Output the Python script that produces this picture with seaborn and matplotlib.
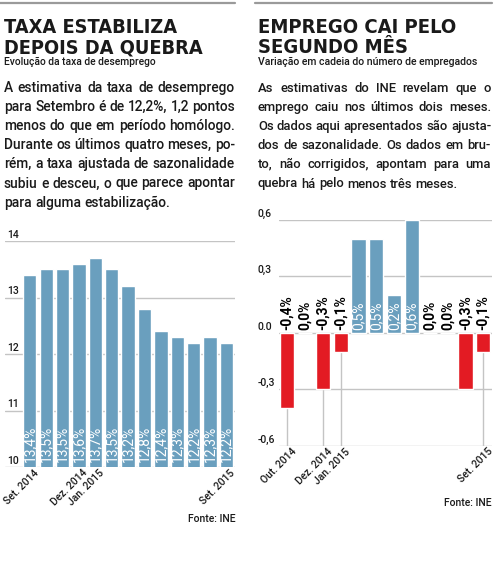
import matplotlib
matplotlib.use("Agg")
import matplotlib.pyplot as plt
from matplotlib import font_manager as fm
from matplotlib.lines import Line2D
import matplotlib.transforms as mtransforms
import seaborn as sns
import pandas as pd

# ---------------- data ----------------
left_months = ["Set. 2014", "Out. 2014", "Nov. 2014", "Dez. 2014", "Jan. 2015", "Fev. 2015",
               "Mar. 2015", "Abr. 2015", "Mai. 2015", "Jun. 2015", "Jul. 2015", "Ago. 2015",
               "Set. 2015"]
left_values = [13.4, 13.5, 13.5, 13.6, 13.7, 13.5, 13.2, 12.8, 12.4, 12.3, 12.2, 12.3, 12.2]
left_tick_labels = ["Set. 2014", "Dez. 2014", "Jan. 2015", "Set. 2015"]
left_yticks = [10, 11, 12, 13, 14]
left_ytick_labels = ["10", "11", "12", "13", "14"]

right_months = ["Out. 2014", "Nov. 2014", "Dez. 2014", "Jan. 2015", "Fev. 2015", "Mar. 2015",
                "Abr. 2015", "Mai. 2015", "Jun. 2015", "Jul. 2015", "Ago. 2015", "Set. 2015"]
right_values = [-0.4, 0.0, -0.3, -0.1, 0.5, 0.5, 0.2, 0.6, 0.0, 0.0, -0.3, -0.1]
right_tick_labels = ["Out. 2014", "Dez. 2014", "Jan. 2015", "Set. 2015"]
right_yticks = [-0.6, -0.3, 0.0, 0.3, 0.6]
right_ytick_labels = ["-0,6", "-0,3", "0.0", "0,3", "0,6"]

left_title = ["TAXA ESTABILIZA", "DEPOIS DA QUEBRA"]
left_subtitle = "Evolução da taxa de desemprego"
left_body = ["A estimativa da taxa de desemprego",
             "para Setembro é de 12,2%, 1,2 pontos",
             "menos do que em período homólogo.",
             "Durante os últimos quatro meses, po-",
             "rém, a taxa ajustada de sazonalidade",
             "subiu e desceu, o que parece apontar",
             "para alguma estabilização."]
right_title = ["EMPREGO CAI PELO", "SEGUNDO MÊS"]
right_subtitle = "Variação em cadeia do número de empregados"
right_body = ["As estimativas do INE revelam que o",
              "emprego caiu nos últimos dois meses.",
              "Os dados aqui apresentados são ajusta-",
              "dos de sazonalidade. Os dados em bru-",
              "to, não corrigidos, apontam para uma",
              "quebra há pelo menos três meses."]
source = "Fonte: INE"

# ---------------- style ----------------
BLUE = "#6a9fbe"
RED = "#e31b23"
GRID = "#c4c4c4"
TXT = "#1a1a1a"

sns.set_style("white")
names = {f.name for f in fm.fontManager.ttflist}
BODY = "Roboto" if "Roboto" in names else ("Open Sans" if "Open Sans" in names else "DejaVu Sans")
if "Liberation Sans Narrow" in names:
    TITLE_KW = dict(family="Liberation Sans Narrow", weight="bold")
else:
    TITLE_KW = dict(family="DejaVu Sans", weight="bold", stretch="condensed")
plt.rcParams["font.family"] = [BODY, "DejaVu Sans"]

W, H = 496, 561
fig = plt.figure(figsize=(W / 100, H / 100), dpi=100)
fig.patch.set_facecolor("white")
renderer = fig.canvas.get_renderer()


def fx(px):
    return px / W


def fy(py):
    return 1 - py / H


def width_of(t):
    return t.get_window_extent(renderer).width


def fit_line(x, yb, s, target_w, fs0=12, **kw):
    t = fig.text(fx(x), fy(yb), s, va="baseline", ha="left", fontsize=fs0, color=TXT, **kw)
    fs = fs0 * target_w / width_of(t)
    t.set_fontsize(fs)
    return fs


def justify(lines, x0, x1, baselines, **kw):
    fs0 = 10
    probe = [fig.text(0, 0, ln, fontsize=fs0, **kw) for ln in lines[:-1]]
    maxw = max(width_of(p) for p in probe)
    for p in probe:
        p.remove()
    fs = fs0 * (x1 - x0) / maxw
    sp = fig.text(0, 0, "a a", fontsize=fs, **kw)
    sa = fig.text(0, 0, "aa", fontsize=fs, **kw)
    space = width_of(sp) - width_of(sa)
    sp.remove(); sa.remove()
    for i, (ln, yb) in enumerate(zip(lines, baselines)):
        words = ln.split(" ")
        ts = [fig.text(0, fy(yb), w, fontsize=fs, va="baseline", ha="left", color=TXT, **kw)
              for w in words]
        ws = [width_of(t) for t in ts]
        if i == len(lines) - 1 or len(words) == 1:
            gap = space
        else:
            gap = (x1 - x0 - sum(ws)) / (len(words) - 1)
        x = x0
        for t, w in zip(ts, ws):
            t.set_x(fx(x))
            x += w + gap


# top rules
fig.add_artist(Line2D([fx(0), fx(235)], [fy(3), fy(3)], color="#9a9a9a", lw=1.6))
fig.add_artist(Line2D([fx(255), fx(492)], [fy(3), fy(3)], color="#9a9a9a", lw=1.6))

# titles
fs = fit_line(4, 33, left_title[0], 173, **TITLE_KW)
fig.text(fx(4), fy(53), left_title[1], va="baseline", fontsize=fs, color=TXT, **TITLE_KW)
fs = fit_line(258, 33, right_title[0], 199, **TITLE_KW)
fig.text(fx(258), fy(53), right_title[1], va="baseline", fontsize=fs, color=TXT, **TITLE_KW)

# subtitles
fit_line(4, 65, left_subtitle, 153, fs0=7, weight="medium")
fit_line(258, 65, right_subtitle, 222, fs0=7, weight="medium")

# body
bl = [92, 111, 130, 149, 168, 187.5, 206.5]
justify(left_body, 4, 235, bl, weight="medium")
justify(right_body, 258, 491, bl[:6], weight="medium")

# sources
fig.text(fx(235), fy(522), source, ha="right", va="baseline", fontsize=7.5, color=TXT,
         weight="medium")
fig.text(fx(492), fy(506), source, ha="right", va="baseline", fontsize=7.5, color=TXT,
         weight="medium")

# ---------------- left chart ----------------
ax1 = fig.add_axes([fx(5), fy(467), 230 / W, 226 / H])
dfl = pd.DataFrame({"mes": left_months, "valor": left_values})
sns.barplot(data=dfl, x="mes", y="valor", color=BLUE, saturation=1, width=0.81, ax=ax1,
            zorder=2)
ax1.set_ylim(left_yticks[0], left_yticks[-1])
ax1.set_xlim(-1.51, len(left_months) - 1 + 0.52)
ax1.set_yticks(left_yticks)
ax1.yaxis.grid(True, color=GRID, lw=1)
ax1.set_axisbelow(True)
ax1.tick_params(axis="y", length=0, labelleft=False)
for v, lab in zip(left_yticks, left_ytick_labels):
    ax1.annotate(lab, xy=(0, v), xycoords=("axes fraction", "data"), xytext=(1.5, 2.2),
                 textcoords="offset points", ha="left", va="baseline", fontsize=7.5,
                 color=TXT, weight="medium")
for i, v in enumerate(left_values):
    ax1.annotate(f"{v:.1f}%".replace(".", ","), xy=(i, left_yticks[0]), xytext=(0, 3.5),
                 textcoords="offset points", rotation=90, ha="center", va="bottom",
                 fontsize=10, color="white", zorder=3)
ax1.set_xticks([left_months.index(m) for m in left_tick_labels], left_tick_labels)
ax1.tick_params(axis="x", length=0, pad=3, labelsize=7.5, colors=TXT)
off = mtransforms.ScaledTranslation(7 / 100, 0, fig.dpi_scale_trans)
for lab in ax1.get_xticklabels():
    lab.set_rotation(45)
    lab.set_ha("right")
    lab.set_va("center")
    lab.set_rotation_mode("anchor")
    lab.set_weight("medium")
    lab.set_transform(lab.get_transform() + off)
ax1.set_xlabel("")
ax1.set_ylabel("")
sns.despine(ax=ax1, left=True, bottom=True)

# ---------------- right chart ----------------
ax2 = fig.add_axes([fx(279), fy(445.7), 213 / W, 225.7 / H])
dfr = pd.DataFrame({"mes": right_months, "valor": right_values})
dfr["sinal"] = ["pos" if v > 0 else "neg" for v in right_values]
sns.barplot(data=dfr, x="mes", y="valor", hue="sinal", palette={"pos": BLUE, "neg": RED},
            saturation=1, width=0.8, dodge=False, legend=False, ax=ax2, zorder=2)
ax2.set_ylim(right_yticks[0], right_yticks[-1])
ax2.set_xlim(-0.46, len(right_months) - 1 + 0.49)
ax2.set_yticks(right_yticks)
ax2.yaxis.grid(True, color=GRID, lw=1)
ax2.set_axisbelow(True)
ax2.tick_params(axis="y", length=0, labelleft=False)
rt_idx = [right_months.index(m) for m in right_tick_labels]
ax2.vlines(rt_idx, right_yticks[0], 0, color=GRID, lw=1, zorder=1)
for v, lab in zip(right_yticks, right_ytick_labels):
    ax2.annotate(lab, xy=(0, v), xycoords=("axes fraction", "data"), xytext=(-15.5, 2.2),
                 textcoords="offset points", ha="left", va="baseline", fontsize=7.5,
                 color=TXT, weight="medium")
for i, v in enumerate(right_values):
    pos = v > 0
    ax2.annotate(f"{v:.1f}%".replace(".", ","), xy=(i, 0), xytext=(0, 2.2),
                 textcoords="offset points", rotation=90, ha="center", va="bottom",
                 fontsize=10, color="white" if pos else "black",
                 weight="normal" if pos else "bold", zorder=3)
ax2.set_xticks(rt_idx, right_tick_labels)
ax2.tick_params(axis="x", length=0, pad=3, labelsize=7.5, colors=TXT)
off2 = mtransforms.ScaledTranslation(8 / 100, 0, fig.dpi_scale_trans)
for lab in ax2.get_xticklabels():
    lab.set_rotation(45)
    lab.set_ha("right")
    lab.set_va("center")
    lab.set_rotation_mode("anchor")
    lab.set_weight("medium")
    lab.set_transform(lab.get_transform() + off2)
ax2.set_xlabel("")
ax2.set_ylabel("")
sns.despine(ax=ax2, left=True, bottom=True)

fig.savefig("out.png", dpi=100, facecolor="white")
